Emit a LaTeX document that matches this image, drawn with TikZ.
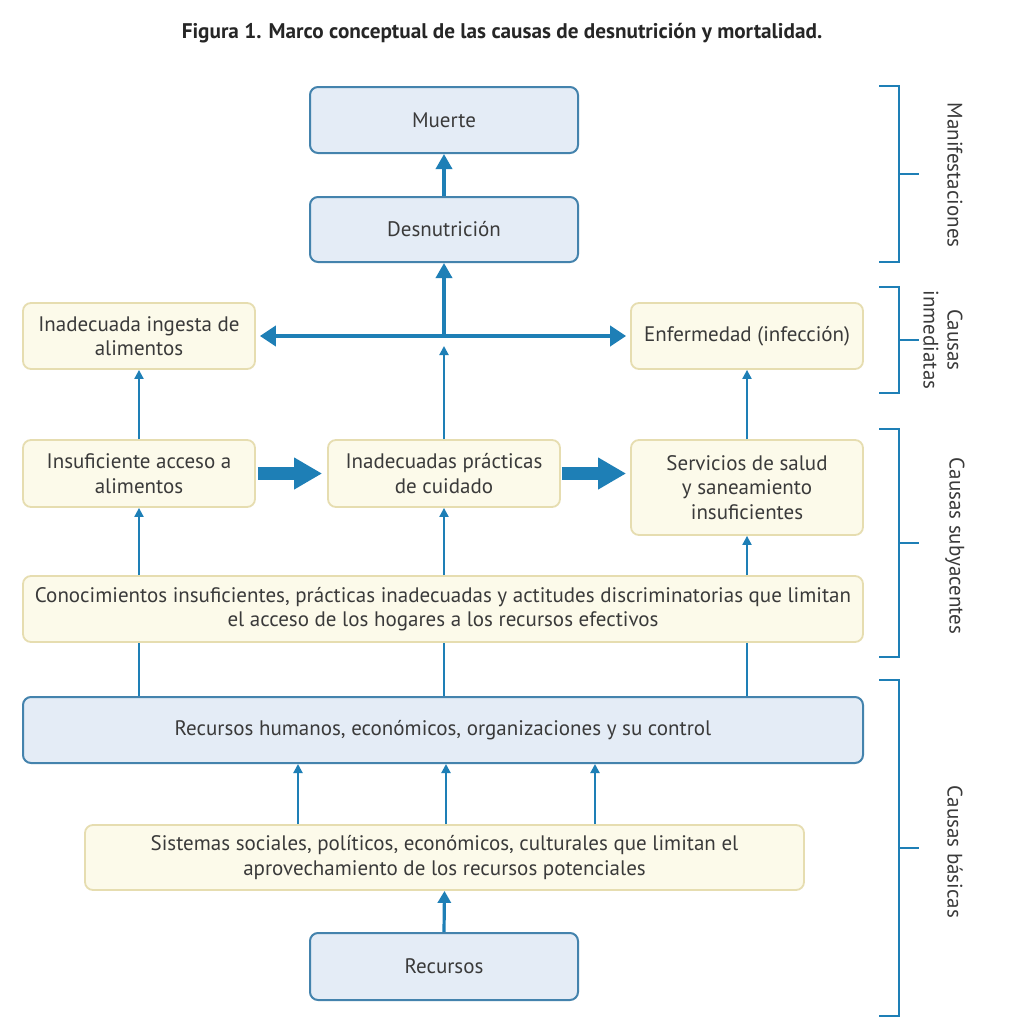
\documentclass[tikz,border=0pt]{standalone}
\usepackage{fontspec}
\setmainfont{PT Sans}
\usetikzlibrary{arrows.meta,calc}
\definecolor{arr}{HTML}{1E7FB6}
\definecolor{bfill}{HTML}{E4ECF6}
\definecolor{bdraw}{HTML}{4483AD}
\definecolor{yfill}{HTML}{FCFAEA}
\definecolor{ydraw}{HTML}{E6DDB0}
\definecolor{txt}{HTML}{3A3A3A}
\begin{document}
\begin{tikzpicture}[x=0.5pt,y=-0.5pt,
  boxtext/.style={text=txt, align=center, font=\fontsize{10.5}{12.2}\selectfont, inner sep=0pt, rounded corners=4pt},
  bluebox/.style={boxtext, draw=bdraw, fill=bfill, line width=1pt},
  yelbox/.style={boxtext, draw=ydraw, fill=yfill, line width=0.9pt},
  thinarrow/.style={draw=arr, line width=1pt, -{Triangle[length=4.5pt,width=4.5pt]}},
  midarrow/.style={draw=arr, line width=1.7pt, -{Triangle[length=7.5pt,width=8pt]}},
  plainline/.style={draw=arr, line width=1pt},
  dblarrow/.style={draw=arr, line width=2.4pt, {Triangle[length=8pt,width=10pt]}-{Triangle[length=8pt,width=10pt]}},
  blockarrow/.style={draw=arr, line width=6.5pt, -{Triangle[length=14pt,width=15pt]}},
  bracket/.style={draw=arr, line width=1pt},
  grplabel/.style={text=txt, align=center, font=\fontsize{10.5}{12}\selectfont, rotate=-90, inner sep=0pt}
]
\useasboundingbox[fill=white] (0,0) rectangle (1029,1024);

% title
\node[font=\bfseries\fontsize{10.6}{12}\selectfont, text=black!85] (title) at (502,33)
  {Figura 1. Marco conceptual de las causas de desnutrición y mortalidad.};

% boxes
\node[bluebox, minimum width=134pt, minimum height=33pt] (muerte) at (444,120) {Muerte};
\node[bluebox, minimum width=134pt, minimum height=32.5pt] (desnu) at (444,229.5) {Desnutrición};
\node[yelbox, minimum width=116pt, minimum height=33pt] (ingesta) at (139,336) {Inadecuada ingesta de\\alimentos};
\node[yelbox, minimum width=116pt, minimum height=33pt] (enferm) at (747,336) {Enfermedad (infección)};
\node[yelbox, minimum width=116pt, minimum height=33.5pt] (insuf) at (139,473.5) {Insuficiente acceso a\\alimentos};
\node[yelbox, minimum width=116pt, minimum height=33.5pt] (pract) at (444,473.5) {Inadecuadas prácticas\\de cuidado};
\node[yelbox, minimum width=116pt, minimum height=47.5pt] (serv) at (747,487.5) {Servicios de salud\\y saneamiento\\insuficientes};
\node[yelbox, minimum width=420pt, minimum height=33pt] (conoc) at (443,609)
  {Conocimientos insuficientes, prácticas inadecuadas y actitudes discriminatorias que limitan\\el acceso de los hogares a los recursos efectivos};
\node[bluebox, minimum width=420pt, minimum height=33pt] (rechum) at (443,730)
  {Recursos humanos, económicos, organizaciones y su control};
\node[yelbox, minimum width=359.5pt, minimum height=32.5pt] (sist) at (444.5,857.5)
  {Sistemas sociales, políticos, económicos, culturales que limitan el\\aprovechamiento de los recursos potenciales};
\node[bluebox, minimum width=134pt, minimum height=33.5pt] (recursos) at (444,966.5) {Recursos};

% connectors
\coordinate (hub) at (pract.north |- ingesta.east);
\draw[midarrow] (desnu.north) -- (muerte.south);
\draw[midarrow] (hub) -- (desnu.south);
\draw[dblarrow, shorten <=2pt, shorten >=2pt] (ingesta.east) -- (enferm.west);
\draw[thinarrow, shorten >=5pt] (pract.north) -- (hub);
\draw[thinarrow] (insuf.north) -- (ingesta.south);
\draw[thinarrow] (serv.north) -- (enferm.south);
\draw[blockarrow, shorten <=1pt, shorten >=2.5pt] (insuf.east) -- (pract.west);
\draw[blockarrow, shorten <=0.5pt, shorten >=2pt] (pract.east) -- (pract.east -| serv.west);
\draw[thinarrow] (insuf.south |- conoc.north) -- (insuf.south);
\draw[thinarrow] (pract.south |- conoc.north) -- (pract.south);
\draw[thinarrow] (serv.south |- conoc.north) -- (serv.south);
\draw[plainline] (insuf.south |- rechum.north) -- (insuf.south |- conoc.south);
\draw[plainline] (pract.south |- rechum.north) -- (pract.south |- conoc.south);
\draw[plainline] (serv.south |- rechum.north) -- (serv.south |- conoc.south);
\draw[thinarrow] ($(sist.north)+(-146.5,0)$) -- ($(sist.north |- rechum.south)+(-146.5,0)$);
\draw[thinarrow] ($(sist.north)+(1.5,0)$) -- ($(sist.north |- rechum.south)+(1.5,0)$);
\draw[thinarrow] ($(sist.north)+(150.5,0)$) -- ($(sist.north |- rechum.south)+(150.5,0)$);
\draw[draw=arr, line width=1.6pt, -{Triangle[length=6pt,width=6.5pt]}] (recursos.north) -- (sist.south);

% brackets
\draw[bracket] (879,86) -- (899,86) -- (899,262) -- (879,262) (899,174) -- (919,174);
\node[grplabel] (lman) at (955,175) {Manifestaciones};
\draw[bracket] (879,287) -- (899,287) -- (899,393) -- (879,393) (899,340) -- (919,340);
\node[grplabel] (linm) at (943,340) {Causas\\inmediatas};
\draw[bracket] (879,429) -- (899,429) -- (899,657) -- (879,657) (899,543) -- (919,543);
\node[grplabel] (lsub) at (955,546) {Causas subyacentes};
\draw[bracket] (879,680) -- (899,680) -- (899,1016) -- (879,1016) (899,848) -- (919,848);
\node[grplabel] (lbas) at (955,852) {Causas básicas};
\end{tikzpicture}
\end{document}
